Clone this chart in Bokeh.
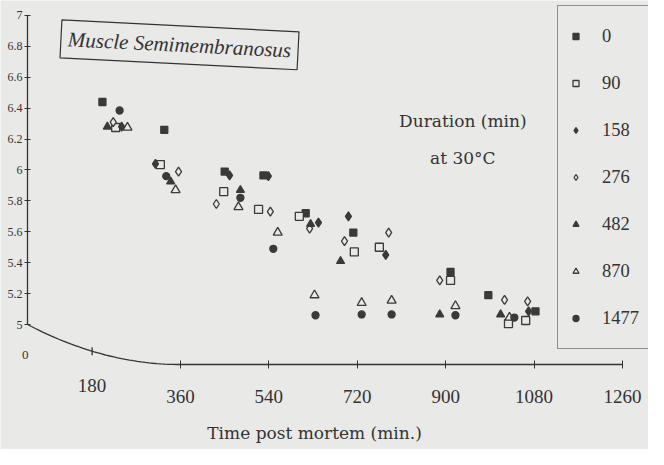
import numpy as np
from bokeh.plotting import figure
from bokeh.models import Range1d, FixedTicker, Label
from bokeh.embed import file_html
from bokeh.resources import INLINE

PAPER = "#e9e9e7"
INK = "#333333"
SERIF = "Liberation Serif"
WIDE_SERIF = "DejaVu Serif"

# ---- data (time post mortem in min, pH) ----
t_0 = [201, 327, 450, 529, 615, 712, 910, 987, 1083]
ph_0 = [6.44, 6.26, 5.99, 5.965, 5.72, 5.595, 5.34, 5.19, 5.085]

t_90 = [228, 319, 448, 519, 602, 714, 765, 910, 1028, 1063]
ph_90 = [6.275, 6.035, 5.86, 5.745, 5.70, 5.47, 5.50, 5.285, 5.006, 5.026]

t_158 = [240, 309, 460, 539, 641, 702, 778, 1069]
ph_158 = [6.28, 6.04, 5.965, 5.96, 5.66, 5.70, 5.45, 5.085]

t_276 = [223, 356, 433, 543, 623, 694, 784, 888, 1020, 1067]
ph_276 = [6.31, 5.99, 5.78, 5.73, 5.62, 5.54, 5.595, 5.285, 5.16, 5.15]

t_482 = [211, 340, 482, 625, 686, 888, 1012]
ph_482 = [6.28, 5.925, 5.87, 5.65, 5.41, 5.065, 5.065]

t_870 = [252, 350, 478, 558, 633, 729, 790, 920, 1030]
ph_870 = [6.275, 5.87, 5.76, 5.595, 5.19, 5.14, 5.155, 5.12, 5.045]

t_1477 = [236, 331, 482, 549, 635, 729, 790, 920, 1040]
ph_1477 = [6.385, 5.96, 5.82, 5.49, 5.06, 5.065, 5.065, 5.06, 5.045]

durations = ["0", "90", "158", "276", "482", "870", "1477"]

x_ticks = [360, 540, 720, 900, 1080, 1260]
y_ticks = [5, 5.2, 5.4, 5.6, 5.8, 6, 6.2, 6.4, 6.6, 6.8, 7]
y_tick_labels = ["5", "5.2", "5.4", "5.6", "5.8", "6", "6.2", "6.4", "6.6", "6.8", "7"]

X0, X1 = -6.6, 1313.2
Y0, Y1 = 4.191, 7.097
X_AXIS_AT = 48.4      # time at which the pH axis stands
Y_AXIS_AT = 4.741     # level of the time axis (axis break below pH 5)

p = figure(width=648, height=449, x_range=Range1d(X0, X1), y_range=Range1d(Y0, Y1),
           output_backend="svg", toolbar_location=None,
           min_border_left=0, min_border_right=0, min_border_top=0, min_border_bottom=0)
p.background_fill_color = PAPER
p.border_fill_color = PAPER
p.outline_line_color = None
p.grid.visible = False

# y axis
ya = p.yaxis[0]
ya.fixed_location = X_AXIS_AT
ya.bounds = (5, 7)
ya.ticker = FixedTicker(ticks=y_ticks, minor_ticks=[])
ya.major_label_overrides = {t: l for t, l in zip(y_ticks, y_tick_labels)}
ya.major_tick_in = 3
ya.major_tick_out = 3
ya.minor_tick_out = 0
ya.axis_line_color = INK
ya.major_tick_line_color = INK
ya.axis_line_width = 1.3
ya.major_label_text_font = SERIF
ya.major_label_text_font_size = "12px"
ya.major_label_text_color = INK
ya.major_label_standoff = 2

# x axis
xa = p.xaxis[0]
xa.fixed_location = Y_AXIS_AT
xa.bounds = (360, 1260)
xa.ticker = FixedTicker(ticks=x_ticks, minor_ticks=[])
xa.major_tick_in = 4
xa.major_tick_out = 4
xa.minor_tick_out = 0
xa.axis_line_color = INK
xa.major_tick_line_color = INK
xa.axis_line_width = 1.3
xa.major_label_text_font = SERIF
xa.major_label_text_font_size = "19px"
xa.major_label_text_color = INK
xa.major_label_standoff = 21

# axis title (placed under the whole broken axis, as in the original)
p.add_layout(Label(x=633, y=4.301, text="Time post mortem (min.)", text_align="center",
                   text_baseline="middle", text_font=WIDE_SERIF, text_font_size="17px", text_color=INK))

# broken-axis curve from pH 5 down to the time axis (decoration)
cx = np.linspace(X_AXIS_AT, 360, 40)
cy = Y_AXIS_AT + (5 - Y_AXIS_AT) * ((360 - cx) / (360 - X_AXIS_AT)) ** 2
p.line(cx, cy, line_color=INK, line_width=1.3)
y180 = Y_AXIS_AT + (5 - Y_AXIS_AT) * ((360 - 180) / (360 - X_AXIS_AT)) ** 2
p.segment(x0=[180], y0=[y180 - 0.026], x1=[180], y1=[y180 + 0.026], line_color=INK, line_width=1.3)
p.add_layout(Label(x=180, y=4.605, text="180", text_align="center", text_baseline="middle",
                   text_font=SERIF, text_font_size="19px", text_color=INK))
p.add_layout(Label(x=44, y=4.80, text="0", text_align="center", text_baseline="middle",
                   text_font=SERIF, text_font_size="13px", text_color=INK))

# series
FILL = "#3a3a3a"
specs = [
    (t_0, ph_0, "square", True, 7),
    (t_90, ph_90, "square", False, 8),
    (t_158, ph_158, "diamond", True, 9),
    (t_276, ph_276, "diamond", False, 9),
    (t_482, ph_482, "triangle", True, 8),
    (t_870, ph_870, "triangle", False, 9),
    (t_1477, ph_1477, "circle", True, 7),
]
for (tx, py, mk, filled, sz), lab in zip(specs, durations):
    p.scatter(tx, py, marker=mk, size=sz, line_color=FILL, line_width=1.3,
              fill_color=FILL if filled else PAPER, legend_label=lab)

lg = p.legend[0]
lg.location = (557, 100)
lg.margin = 0
lg.padding = 10
lg.spacing = 7
lg.glyph_width = 15
lg.glyph_height = 40
lg.label_height = 40
lg.label_standoff = 19
lg.label_text_font = SERIF
lg.label_text_font_size = "18.5px"
lg.label_text_color = INK
lg.border_line_color = INK
lg.border_line_width = 1.5
lg.background_fill_color = PAPER
lg.background_fill_alpha = 1.0

# annotations
p.add_layout(Label(x=935, y=6.315, text="Duration (min)", text_align="center", text_baseline="middle",
                   text_font=WIDE_SERIF, text_font_size="17px", text_color=INK))
p.add_layout(Label(x=935, y=6.08, text="at 30\u00b0C", text_align="center", text_baseline="middle",
                   text_font=WIDE_SERIF, text_font_size="17px", text_color=INK))
p.add_layout(Label(x=358, y=6.81, text="Muscle Semimembranosus", text_align="center", text_baseline="middle",
                   angle=-0.05, text_font=SERIF, text_font_style="italic", text_font_size="21px",
                   text_color=INK, border_line_color=INK, border_line_width=1.2,
                   background_fill_color=PAPER, padding=7))

open("out.html", "w").write(file_html(p, INLINE))
